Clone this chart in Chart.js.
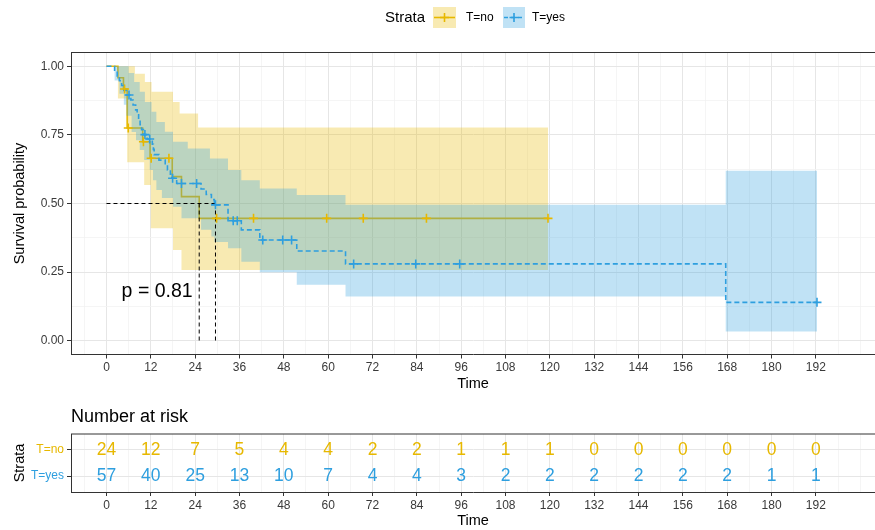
<!DOCTYPE html>
<html><head><meta charset="utf-8">
<script src="https://cdn.jsdelivr.net/npm/chart.js@4"></script>
<style>
html,body{margin:0;padding:0;background:#fff;}
#wrap{position:relative;width:875px;height:530px;overflow:hidden;background:#fff;}
#c1{position:absolute;left:0;top:0;}
#c2{position:absolute;left:0;top:395px;}
</style></head><body>
<div id="wrap">
<canvas id="c1" width="875" height="395"></canvas>
<canvas id="c2" width="875" height="135"></canvas>
</div>
<script>
// ---------------- data ----------------
const strata = ['T=no', 'T=yes'];
const strataColors = ['#E7B800', '#2E9FDF'];
const timeTicks = [0,12,24,36,48,60,72,84,96,108,120,132,144,156,168,180,192];
const survTicks = [0, 0.25, 0.5, 0.75, 1];

// T=no : Kaplan-Meier steps
const noTime = [0,3.1,4.6,5.6,9.8,11.8,17.8,20.3,25.1,119.5];
const noSurv = [1,0.958,0.917,0.775,0.725,0.665,0.598,0.525,0.446,0.446];
const noUpperTime = [0,7.7,10.4,12.2,18.0,19.8,24.8,119.5];
const noUpper = [1,0.973,0.943,0.907,0.870,0.828,0.777,0.777];
const noLowerTime = [0,3.1,5.6,10.2,12.0,18.0,20.3,119.5];
const noLower = [1,0.882,0.65,0.567,0.41,0.331,0.258,0.258];
const noCensorTime = [4.9,5.9,10.0,12.1,16.9,29.8,39.8,59.6,69.5,86.6,119.5];
const noCensorSurv = [0.917,0.775,0.725,0.665,0.665,0.446,0.446,0.446,0.446,0.446,0.446];

// T=yes : Kaplan-Meier steps
const yesTime = [0,2.2,2.9,3.5,4.1,4.7,5.4,6.6,7.2,7.9,8.3,8.7,9.1,9.5,10.0,11.0,12.4,12.7,12.9,14.2,15.9,16.5,17.3,17.7,19.0,25.6,27.0,28.4,29.2,32.9,36.5,41.5,51.5,64.7,167.6,192.3];
const yesSurv = [1,0.982,0.965,0.947,0.930,0.912,0.895,0.877,0.859,0.841,0.823,0.805,0.787,0.769,0.751,0.735,0.716,0.697,0.678,0.658,0.640,0.622,0.607,0.592,0.573,0.553,0.533,0.514,0.495,0.437,0.404,0.367,0.327,0.280,0.140,0.140];
const yesUpperTime = [0,6.0,7.5,9.0,10.4,12.2,13.5,15.8,18.0,22.0,28.0,32.9,36.5,41.5,51.5,64.7,167.6,192.3];
const yesUpper = [1,0.975,0.943,0.907,0.870,0.834,0.797,0.761,0.725,0.700,0.664,0.622,0.585,0.555,0.531,0.495,0.619,0.619];
const yesLowerTime = [0,2.2,3.5,4.7,5.4,6.8,8.0,9.0,10.2,11.7,12.6,13.5,15.0,18.0,20.3,25.6,28.4,29.2,32.9,36.5,41.5,51.5,64.7,167.6,192.3];
const yesLower = [1,0.948,0.90,0.86,0.82,0.76,0.73,0.695,0.658,0.622,0.585,0.549,0.52,0.488,0.446,0.404,0.38,0.36,0.337,0.288,0.25,0.204,0.161,0.034,0.034];
const yesCensorTime = [6.1,10.4,11.7,17.9,20.3,24.4,29.5,34.3,35.4,42.3,47.7,50.1,66.9,83.7,95.6,192.3];
const yesCensorSurv = [0.895,0.751,0.735,0.592,0.573,0.573,0.495,0.437,0.437,0.367,0.367,0.367,0.280,0.280,0.280,0.140];

// median survival
const medianTime = [25.1, 29.5];
const medianSurv = 0.5;
const pValueText = 'p = 0.81';

// number at risk
const riskNo  = [24,12,7,5,4,4,2,2,1,1,1,0,0,0,0,0,0];
const riskYes = [57,40,25,13,10,7,4,4,3,2,2,2,2,2,2,1,1];

// ---------------- styling helpers ----------------
const FONT = '"Liberation Sans", Arial, Helvetica, sans-serif';
Chart.defaults.font.family = FONT;
Chart.defaults.color = '#3a3a3a';
const fillNo = 'rgba(231,184,0,0.3)';
const fillYes = 'rgba(46,159,223,0.3)';
const pts = (xs, ys) => xs.map((x, i) => ({x: x, y: Array.isArray(ys) ? ys[i] : ys}));

// grid positions (major at ticks, minor halfway)
const gridX = [];
for (let v = -6; v <= 204; v += 6) gridX.push(v);
const gridY = [];
for (let v = 0; v <= 1.0001; v += 0.125) gridY.push(Math.round(v * 1000) / 1000);
const isMajorX = v => timeTicks.includes(v);
const isMajorY = v => survTicks.some(t => Math.abs(t - v) < 1e-6);

function xAxis(height, titleBottom) {
  return {
    type: 'linear', min: -9.6, max: 208,
    afterBuildTicks: s => { s.ticks = gridX.map(v => ({value: v})); },
    afterFit: s => { s.height = height; },
    ticks: {autoSkip: false, maxRotation: 0, minRotation: 0, padding: 2, color: '#3a3a3a',
      font: {size: 12}, callback: v => isMajorX(v) ? String(v) : ''},
    grid: {
      color: c => (c.tick && isMajorX(c.tick.value)) ? '#E6E6E6' : '#F2F2F2',
      lineWidth: c => (c.tick && isMajorX(c.tick.value)) ? 1 : 0.8,
      tickLength: 4,
      tickColor: c => (c.tick && isMajorX(c.tick.value)) ? '#333' : 'rgba(0,0,0,0)'
    },
    border: {display: true, color: '#333', width: 1},
    title: {display: true, text: 'Time', color: '#000', font: {size: 14.5}, padding: {top: 0, bottom: titleBottom}}
  };
}

function drawKey(ctx, x, y, w, h, fill, color, dash) {
  ctx.fillStyle = fill;
  ctx.fillRect(x, y, w, h);
  const cy = y + h / 2, cx = x + w / 2;
  ctx.strokeStyle = color; ctx.lineWidth = 1.6;
  ctx.setLineDash(dash);
  ctx.beginPath(); ctx.moveTo(x + 1, cy); ctx.lineTo(x + w - 1, cy); ctx.stroke();
  ctx.setLineDash([]);
  ctx.beginPath(); ctx.moveTo(cx - 4.5, cy); ctx.lineTo(cx + 4.5, cy);
  ctx.moveTo(cx, cy - 4.5); ctx.lineTo(cx, cy + 4.5); ctx.stroke();
}

const mainDecor = {
  id: 'mainDecor',
  afterDraw(chart) {
    const {ctx, chartArea: a, scales: {x, y}} = chart;
    ctx.save();
    // top panel border
    ctx.strokeStyle = '#333'; ctx.lineWidth = 1;
    ctx.beginPath(); ctx.moveTo(a.left, a.top); ctx.lineTo(a.right, a.top); ctx.stroke();
    // p-value
    ctx.fillStyle = '#000';
    ctx.font = '19.5px ' + FONT;
    ctx.textAlign = 'left'; ctx.textBaseline = 'middle';
    ctx.fillText(pValueText, x.getPixelForValue(4.1), y.getPixelForValue(0.18));
    // legend
    ctx.font = '15px ' + FONT;
    ctx.fillText('Strata', 385, 18);
    drawKey(ctx, 433, 7, 23, 21, fillNo, strataColors[0], []);
    ctx.fillStyle = '#000'; ctx.font = '12px ' + FONT;
    ctx.fillText(strata[0], 466, 18);
    drawKey(ctx, 503, 7, 22, 21, fillYes, strataColors[1], [4, 3]);
    ctx.fillStyle = '#000'; ctx.font = '12px ' + FONT;
    ctx.fillText(strata[1], 532, 18);
    ctx.restore();
  }
};

new Chart(document.getElementById('c1'), {
  type: 'line',
  data: {
    datasets: [
      {label: strata[0], data: pts(noTime, noSurv), stepped: true, borderColor: strataColors[0], borderWidth: 1.6, pointRadius: 0, fill: false, order: 9},
      {label: 'no lower', data: pts(noLowerTime, noLower), stepped: true, borderColor: 'rgba(0,0,0,0)', borderWidth: 1, pointRadius: 0, fill: false, order: 6},
      {label: 'no upper', data: pts(noUpperTime, noUpper), stepped: true, borderColor: 'rgba(0,0,0,0)', borderWidth: 1, pointRadius: 0, fill: '-1', backgroundColor: fillNo, order: 6},
      {label: 'yes lower', data: pts(yesLowerTime, yesLower), stepped: true, borderColor: 'rgba(0,0,0,0)', borderWidth: 1, pointRadius: 0, fill: false, order: 5},
      {label: 'yes upper', data: pts(yesUpperTime, yesUpper), stepped: true, borderColor: 'rgba(0,0,0,0)', borderWidth: 1, pointRadius: 0, fill: '-1', backgroundColor: fillYes, order: 5},
      {label: 'median h', data: [{x: 0, y: medianSurv}, {x: medianTime[1], y: medianSurv}], borderColor: '#000', borderWidth: 1, borderDash: [4, 3], pointRadius: 0, fill: false, order: 4},
      {label: 'median no', data: [{x: medianTime[0], y: medianSurv}, {x: medianTime[0], y: 0}], borderColor: '#000', borderWidth: 1, borderDash: [4, 3], pointRadius: 0, fill: false, order: 4},
      {label: 'median yes', data: [{x: medianTime[1], y: medianSurv}, {x: medianTime[1], y: 0}], borderColor: '#000', borderWidth: 1, borderDash: [4, 3], pointRadius: 0, fill: false, order: 4},
      {label: strata[1], data: pts(yesTime, yesSurv), stepped: true, borderColor: strataColors[1], borderWidth: 1.6, borderDash: [5, 3], pointRadius: 0, fill: false, order: 2},
      {label: strata[0] + ' censor', data: pts(noCensorTime, noCensorSurv), showLine: false, pointStyle: 'cross', pointRadius: 4.5, pointBorderWidth: 1.6, pointBorderColor: strataColors[0], order: 1},
      {label: strata[1] + ' censor', data: pts(yesCensorTime, yesCensorSurv), showLine: false, pointStyle: 'cross', pointRadius: 4.5, pointBorderWidth: 1.6, pointBorderColor: strataColors[1], order: 1}
    ]
  },
  options: {
    responsive: false, animation: false, events: [],
    layout: {autoPadding: false, padding: {top: 52.5, left: 0, right: 0, bottom: 0}},
    plugins: {legend: {display: false}, tooltip: {enabled: false}, title: {display: false}},
    scales: {
      x: xAxis(40.5, 2),
      y: {
        type: 'linear', min: -0.05, max: 1.05,
        afterBuildTicks: s => { s.ticks = gridY.map(v => ({value: v})); },
        afterFit: s => { s.width = 71; },
        ticks: {autoSkip: false, padding: 3, color: '#3a3a3a', font: {size: 12},
          callback: v => isMajorY(v) ? v.toFixed(2) : ''},
        grid: {
          color: c => (c.tick && isMajorY(c.tick.value)) ? '#E6E6E6' : '#F2F2F2',
          lineWidth: c => (c.tick && isMajorY(c.tick.value)) ? 1 : 0.8,
          tickLength: 4,
          tickColor: c => (c.tick && isMajorY(c.tick.value)) ? '#333' : 'rgba(0,0,0,0)'
        },
        border: {display: true, color: '#333', width: 1},
        title: {display: true, text: 'Survival probability', color: '#000', font: {size: 14.5}, padding: {top: 11, bottom: 0}}
      }
    }
  },
  plugins: [mainDecor]
});

// ---------------- risk table ----------------
const riskDecor = {
  id: 'riskDecor',
  afterDraw(chart) {
    const {ctx, chartArea: a, scales: {x, y}} = chart;
    ctx.save();
    ctx.strokeStyle = '#333'; ctx.lineWidth = 1;
    ctx.beginPath(); ctx.moveTo(a.left, a.top); ctx.lineTo(a.right, a.top); ctx.stroke();
    ctx.fillStyle = '#000';
    ctx.font = '18px ' + FONT;
    ctx.textAlign = 'left'; ctx.textBaseline = 'middle';
    ctx.fillText('Number at risk', 71, 22);
    ctx.font = '17.5px ' + FONT;
    ctx.textAlign = 'center';
    timeTicks.forEach((t, i) => {
      const px = x.getPixelForValue(t);
      ctx.fillStyle = strataColors[0];
      ctx.fillText(String(riskNo[i]), px, y.getPixelForValue(2));
      ctx.fillStyle = strataColors[1];
      ctx.fillText(String(riskYes[i]), px, y.getPixelForValue(1));
    });
    ctx.restore();
  }
};

new Chart(document.getElementById('c2'), {
  type: 'line',
  data: {datasets: [{label: 'risk', data: [], pointRadius: 0}]},
  options: {
    responsive: false, animation: false, events: [],
    layout: {autoPadding: false, padding: {top: 39, left: 0, right: 0, bottom: 0}},
    plugins: {legend: {display: false}, tooltip: {enabled: false}},
    scales: {
      x: xAxis(38, 0),
      y: {
        type: 'linear', min: 0.4, max: 2.6,
        afterBuildTicks: s => { s.ticks = [{value: 1}, {value: 2}]; },
        afterFit: s => { s.width = 71; },
        ticks: {autoSkip: false, padding: 3, font: {size: 12},
          color: c => (c.tick && c.tick.value === 2) ? strataColors[0] : strataColors[1],
          callback: v => v === 2 ? strata[0] : strata[1]},
        grid: {color: '#E6E6E6', lineWidth: 1, tickLength: 4, tickColor: '#333'},
        border: {display: true, color: '#333', width: 1},
        title: {display: true, text: 'Strata', color: '#000', font: {size: 14.5}, padding: {top: 11, bottom: 0}}
      }
    }
  },
  plugins: [riskDecor]
});
</script>
</body></html>
